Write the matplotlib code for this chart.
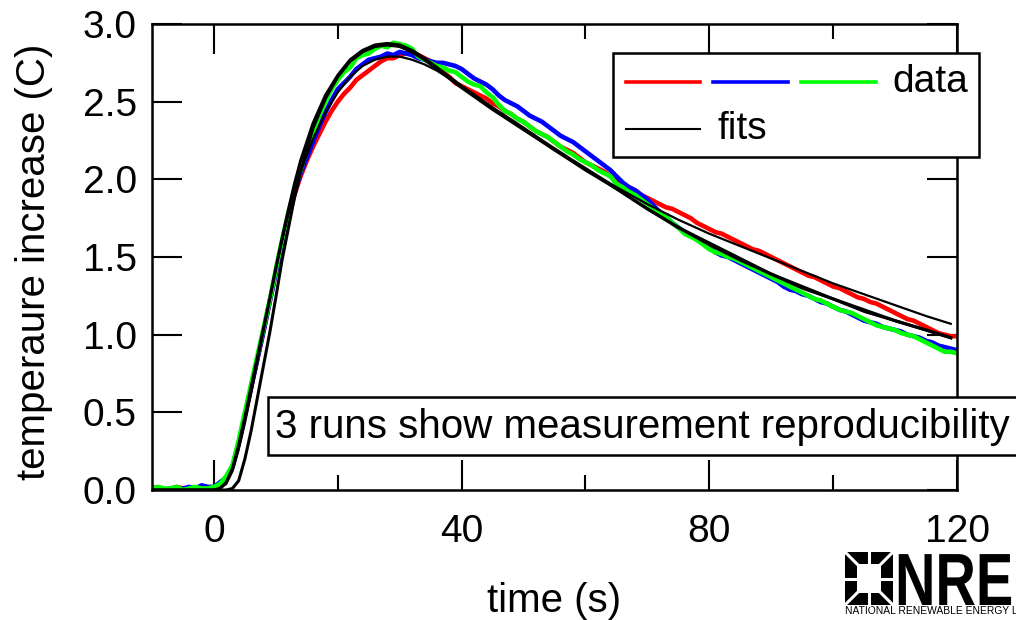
import numpy as np
import matplotlib
matplotlib.use('Agg')
import matplotlib.pyplot as plt
from matplotlib.patches import Rectangle, PathPatch
from matplotlib.lines import Line2D
from matplotlib.textpath import TextPath
from matplotlib.font_manager import FontProperties
from matplotlib.transforms import Affine2D

plt.rcParams['font.family'] = ['Liberation Sans', 'DejaVu Sans']

# measured runs, one sample per second from -10 s to 120 s
data_t = np.arange(-10, 121)
run_red = [0.02, 0.01, 0.00, 0.01, 0.02, 0.01, 0.00, 0.01, 0.00, 0.01,
           0.01, 0.03, 0.08, 0.15, 0.30, 0.48, 0.66, 0.84, 1.02, 1.21, 1.40,
           1.58, 1.75, 1.90, 2.02, 2.12, 2.21, 2.29, 2.37, 2.44, 2.50,
           2.55, 2.59, 2.64, 2.67, 2.70, 2.73, 2.76, 2.78, 2.78, 2.80,
           2.81, 2.81, 2.80, 2.78, 2.76, 2.72, 2.69, 2.66, 2.62, 2.60,
           2.58, 2.56, 2.54, 2.52, 2.49, 2.47, 2.44, 2.42, 2.39, 2.37,
           2.34, 2.31, 2.29, 2.27, 2.24, 2.21, 2.19, 2.17, 2.14, 2.11,
           2.09, 2.07, 2.05, 2.02, 1.99, 1.97, 1.95, 1.93, 1.90, 1.88,
           1.86, 1.84, 1.82, 1.81, 1.79, 1.77, 1.75, 1.72, 1.70, 1.68,
           1.66, 1.65, 1.63, 1.61, 1.59, 1.57, 1.55, 1.54, 1.52, 1.50,
           1.48, 1.46, 1.44, 1.42, 1.40, 1.38, 1.37, 1.35, 1.33, 1.31,
           1.30, 1.28, 1.26, 1.24, 1.23, 1.21, 1.20, 1.18, 1.16, 1.14,
           1.12, 1.10, 1.09, 1.07, 1.05, 1.03, 1.01, 1.00, 0.99, 0.99]
run_blue = [0.00, 0.01, 0.00, 0.01, 0.00, 0.01, 0.02, 0.01, 0.03, 0.02,
            0.02, 0.05, 0.08, 0.15, 0.30, 0.48, 0.66, 0.84, 1.02, 1.21, 1.40,
            1.58, 1.76, 1.91, 2.04, 2.14, 2.24, 2.34, 2.43, 2.51, 2.58,
            2.62, 2.66, 2.71, 2.74, 2.77, 2.78, 2.79, 2.81, 2.80, 2.82,
            2.81, 2.80, 2.78, 2.77, 2.76, 2.75, 2.75, 2.74, 2.73, 2.71,
            2.68, 2.65, 2.63, 2.61, 2.58, 2.54, 2.51, 2.49, 2.47, 2.44,
            2.41, 2.39, 2.37, 2.34, 2.31, 2.28, 2.26, 2.24, 2.21, 2.18,
            2.15, 2.12, 2.09, 2.06, 2.02, 1.98, 1.95, 1.93, 1.90, 1.87,
            1.83, 1.79, 1.76, 1.72, 1.69, 1.66, 1.64, 1.61, 1.59, 1.56,
            1.53, 1.51, 1.50, 1.48, 1.46, 1.44, 1.42, 1.40, 1.38, 1.36,
            1.34, 1.31, 1.29, 1.28, 1.26, 1.25, 1.23, 1.21, 1.20, 1.18,
            1.16, 1.15, 1.13, 1.11, 1.09, 1.08, 1.07, 1.05, 1.04, 1.03,
            1.02, 1.00, 0.99, 0.98, 0.96, 0.95, 0.93, 0.92, 0.91, 0.90]
run_green = [0.01, 0.02, 0.01, 0.01, 0.02, 0.00, 0.01, 0.02, 0.01, 0.01,
             0.02, 0.04, 0.09, 0.16, 0.32, 0.50, 0.68, 0.86, 1.04, 1.22, 1.42,
             1.61, 1.78, 1.93, 2.06, 2.19, 2.30, 2.41, 2.50, 2.58, 2.64,
             2.69, 2.72, 2.78, 2.80, 2.81, 2.84, 2.86, 2.85, 2.88, 2.87,
             2.86, 2.84, 2.79, 2.77, 2.75, 2.73, 2.72, 2.70, 2.69, 2.66,
             2.63, 2.61, 2.60, 2.56, 2.53, 2.48, 2.44, 2.42, 2.39, 2.37,
             2.34, 2.31, 2.29, 2.27, 2.24, 2.21, 2.18, 2.16, 2.13, 2.11,
             2.09, 2.06, 2.04, 2.02, 1.97, 1.95, 1.92, 1.90, 1.87, 1.84,
             1.81, 1.78, 1.76, 1.72, 1.69, 1.65, 1.63, 1.61, 1.58, 1.55,
             1.53, 1.52, 1.50, 1.49, 1.47, 1.45, 1.43, 1.41, 1.39, 1.37,
             1.35, 1.33, 1.31, 1.29, 1.27, 1.25, 1.23, 1.22, 1.20, 1.18,
             1.16, 1.15, 1.14, 1.12, 1.10, 1.08, 1.06, 1.05, 1.04, 1.03,
             1.01, 1.00, 0.99, 0.97, 0.95, 0.93, 0.91, 0.89, 0.89, 0.88]

# fitted curves
fit_t = [-10, 0, 1, 2, 3, 4, 5, 6, 7, 8, 9, 10, 11, 12, 13, 14,
         16, 18, 20, 22, 24, 26, 28, 30, 32, 34, 36, 38, 40,
         45, 50, 55, 60, 65, 70, 75, 80, 85, 90, 95, 100, 105, 110, 115, 119]
fit_green = [0, 0, 0.01, 0.05, 0.14, 0.29, 0.47, 0.66, 0.85, 1.04, 1.23, 1.43, 1.62, 1.80, 1.97, 2.12,
             2.36, 2.54, 2.67, 2.77, 2.83, 2.865, 2.875, 2.865, 2.83, 2.78, 2.72, 2.66, 2.60,
             2.46, 2.33, 2.19, 2.07, 1.94, 1.81, 1.69, 1.59, 1.49, 1.39, 1.31, 1.23, 1.16, 1.09, 1.03, 0.98]
fit_blue = [0, 0, 0.0, 0.0, 0.01, 0.06, 0.20, 0.38, 0.59, 0.80, 1.01, 1.24, 1.48, 1.68, 1.88, 2.05,
            2.33, 2.52, 2.66, 2.76, 2.82, 2.855, 2.865, 2.855, 2.82, 2.77, 2.71, 2.65, 2.59,
            2.45, 2.32, 2.19, 2.06, 1.94, 1.81, 1.69, 1.58, 1.48, 1.39, 1.30, 1.23, 1.15, 1.09, 1.03, 0.98]
fit_red = [0, 0, 0.01, 0.04, 0.12, 0.26, 0.43, 0.62, 0.82, 1.02, 1.22, 1.42, 1.60, 1.77, 1.92, 2.05,
           2.26, 2.43, 2.56, 2.66, 2.73, 2.77, 2.79, 2.79, 2.77, 2.74, 2.70, 2.65, 2.60,
           2.46, 2.33, 2.20, 2.07, 1.95, 1.84, 1.74, 1.65, 1.57, 1.49, 1.41, 1.33, 1.26, 1.19, 1.12, 1.07]

x_major = [0, 40, 80, 120]
x_minor = [20, 60, 100]
y_major = [0.0, 0.5, 1.0, 1.5, 2.0, 2.5, 3.0]

W, H = 1016, 620
FS = 28


def px(x, y):
    # pixel position (from top left) -> figure fraction
    return x / W, 1 - y / H


fig = plt.figure(figsize=(W / 100, H / 100), dpi=100)
ax = fig.add_axes([152 / W, 1 - 490 / H, 805 / W, 466 / H])

ax.plot(data_t, run_red, color='#ff0000', lw=3.3, zorder=2)
ax.plot(data_t, run_blue, color='#0000ff', lw=3.3, zorder=2)
ax.plot(data_t, run_green, color='#00ff00', lw=3.3, zorder=2)
ax.plot(fit_t, fit_red, color='k', lw=1.6, zorder=3)
ax.plot(fit_t, fit_blue, color='k', lw=2.2, zorder=3)
ax.plot(fit_t, fit_green, color='k', lw=2.2, zorder=3)

ax.set_xlim(-10, 120)
ax.set_ylim(0, 3)
ax.set_xticks(x_major)
ax.set_xticks(x_minor, minor=True)
ax.set_yticks(y_major)
ax.set_yticklabels(['%.1f' % v for v in y_major])
ax.tick_params(which='both', direction='in', top=True, right=True, width=1.5,
               labelsize=FS)
ax.tick_params(which='major', length=21.5)
ax.tick_params(which='minor', length=10.8)
ax.tick_params(axis='x', pad=17)
ax.tick_params(axis='y', pad=11)
for s in ax.spines.values():
    s.set_linewidth(1.8)

ax.set_xlabel('time (s)', fontsize=29)
ax.xaxis.set_label_coords(0.5, -0.197)
ax.set_ylabel('temperaure increase (C)', fontsize=29)
ax.yaxis.set_label_coords(-0.123, 0.489)

# legend box
x0, y0 = px(613, 157)
x1, y1 = px(979, 53)
fig.add_artist(Rectangle((x0, y0), x1 - x0, y1 - y0, transform=fig.transFigure,
                         facecolor='white', edgecolor='black', lw=1.8, zorder=5))
for (xa, xb), c in zip([(626, 700), (713, 788), (801, 876)], ['#ff0000', '#0000ff', '#00ff00']):
    fig.add_artist(Line2D([xa / W, xb / W], [1 - 82 / H] * 2, transform=fig.transFigure,
                          color=c, lw=2.6, zorder=6))
fig.add_artist(Line2D([626 / W, 700 / W], [1 - 129 / H] * 2, transform=fig.transFigure,
                      color='k', lw=1.5, zorder=6))
fig.text(*px(892, 82), 'data', fontsize=FS, va='center', ha='left', zorder=6)
fig.text(*px(718, 129), 'fits', fontsize=FS, va='center', ha='left', zorder=6)

# annotation box
x0, y0 = px(268, 455)
x1, y1 = px(1030, 397)
fig.add_artist(Rectangle((x0, y0), x1 - x0, y1 - y0, transform=fig.transFigure,
                         facecolor='white', edgecolor='black', lw=1.8, zorder=5))
fig.text(*px(275, 427), '3 runs show measurement reproducibility', fontsize=29,
         va='center', ha='left', zorder=6)

# NREL logo
x0, y0 = px(845, 605)
x1, y1 = px(893, 552)
fig.add_artist(Rectangle((x0, y0), x1 - x0, y1 - y0, transform=fig.transFigure,
                         facecolor='black', edgecolor='none', zorder=5))
x0, y0 = px(857, 593)
x1, y1 = px(881, 564)
fig.add_artist(Rectangle((x0, y0), x1 - x0, y1 - y0, transform=fig.transFigure,
                         facecolor='white', edgecolor='none', zorder=6))
gaps = [((845, 552), (857, 564)), ((893, 552), (881, 564)),
        ((845, 605), (857, 593)), ((893, 605), (881, 593)),
        ((869, 552), (869, 564)), ((869, 593), (869, 605)),
        ((845, 578.5), (857, 578.5)), ((881, 578.5), (893, 578.5))]
for (xa, ya), (xb, yb) in gaps:
    fig.add_artist(Line2D([xa / W, xb / W], [1 - ya / H, 1 - yb / H],
                          transform=fig.transFigure, color='white', lw=2.2, zorder=7))

nrel = TextPath((0, 0), 'NREL', size=100,
                prop=FontProperties(family='Liberation Sans', weight='bold'))
tr = Affine2D().scale(0.0056, 0.0074).translate(8.95, (H - 605) / 100) + fig.dpi_scale_trans
fig.add_artist(PathPatch(nrel, transform=tr, facecolor='black', edgecolor='none', zorder=5))
fig.text(*px(845, 611), 'NATIONAL RENEWABLE ENERGY LABORATORY', fontsize=7.4,
         va='center', ha='left')

fig.savefig('out.png', dpi=100)
